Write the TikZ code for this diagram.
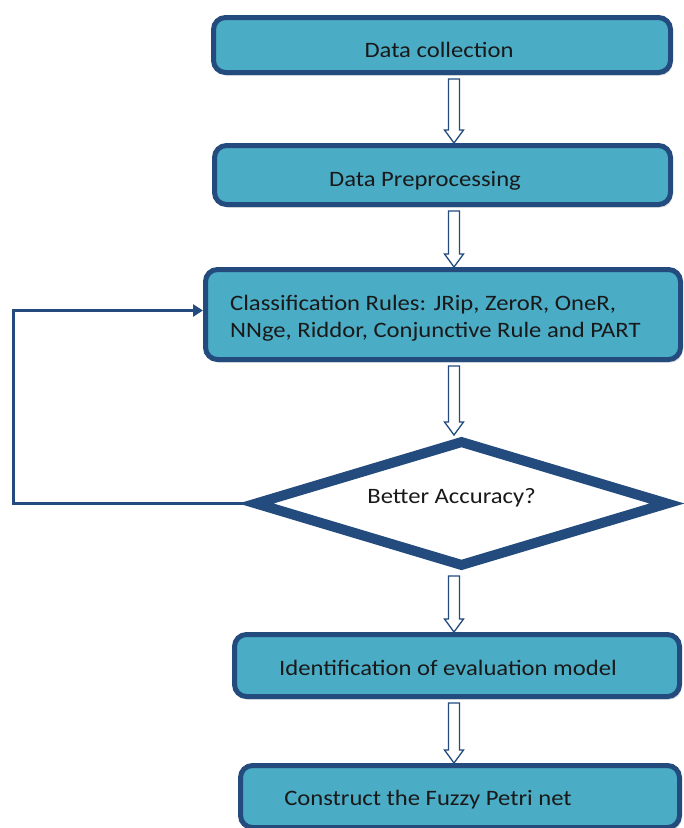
\documentclass[tikz,border=0pt]{standalone}
\usepackage{fontspec}
\setmainfont{Carlito}[FakeStretch=1.12]
\usetikzlibrary{calc,shadows,shapes.geometric,arrows.meta}
\definecolor{boxfill}{HTML}{4BACC6}
\definecolor{boxline}{HTML}{234B7D}
\newcommand{\harrowto}[2]{%
  \draw[harrow] let \p1=(#1), \p2=(#2) in
    (\x1-5.5pt,\y1) -- (\x1+5.5pt,\y1) -- (\x1+5.5pt,\y2+13pt) -- (\x1+9.5pt,\y2+13pt)
    -- (\x1,\y2) -- (\x1-9.5pt,\y2+13pt) -- (\x1-5.5pt,\y2+13pt) -- cycle;}
\begin{document}
\begin{tikzpicture}[x=1pt,y=-1pt,
  box/.style={rectangle, rounded corners=12pt, draw=boxline, line width=5pt, fill=boxfill,
    inner sep=0pt, drop shadow={shadow xshift=2pt,shadow yshift=-3pt,opacity=0.3}},
  dia/.style={shape=diamond, draw=boxline, line width=10pt, fill=white, inner sep=0pt,
    minimum width=415pt, minimum height=127pt},
  txt/.style={font=\fontsize{22}{27}\selectfont, text=black!90, inner sep=0pt, anchor=base},
  harrow/.style={draw=boxline, line width=1.3pt, fill=white, line join=miter},
  loopline/.style={draw=boxline, line width=3pt, line join=miter,
    -{Triangle[length=10pt,width=12pt]}},
]
\useasboundingbox (0,0) rectangle (684,828);
\fill[white] (0,0) rectangle (684,828);
% boxes
\node[box, minimum width=457pt, minimum height=55pt] (b1) at (442,45) {};
\node[box, minimum width=456pt, minimum height=59pt] (b2) at (442.5,175) {};
\node[box, minimum width=475pt, minimum height=90pt] (b3) at (443,314.5) {};
\node[dia] (dec) at (461.5,503.5) {};
\node[box, minimum width=445pt, minimum height=62pt] (b4) at (457,665.5) {};
\node[box, minimum width=439pt, minimum height=62pt] (b5) at (460,796.5) {};
% connectors
\coordinate (ax) at (454,0);
\coordinate (lx) at (13,0);
\harrowto{$(b1.south -| ax)+(0,4)$}{b2.north -| ax}
\harrowto{$(b2.south -| ax)+(0,4)$}{b3.north -| ax}
\harrowto{$(b3.south -| ax)+(0,4)$}{dec.north -| ax}
\harrowto{$(dec.south -| ax)+(0,4)$}{b4.north -| ax}
\harrowto{$(b4.south -| ax)+(0,4)$}{b5.north -| ax}
\draw[loopline] (dec.west) -- (dec.west -| lx) |- ($(b3.west)+(0,-4)$);
% texts
\node[txt] (t1) at (439,57) {Data collection};
\node[txt] (t2) at (425,186) {Data Preprocessing};
\node[txt, anchor=base west] (t3a) at (230,310) {Classification Rules: JRip, ZeroR, OneR,};
\node[txt, anchor=base west] (t3b) at (230,337) {NNge, Riddor, Conjunctive Rule and PART};
\node[txt] (t4) at (451.5,503) {Better Accuracy?};
\node[txt] (t5) at (448,675) {Identification of evaluation model};
\node[txt] (t6) at (428,805) {Construct the Fuzzy Petri net};
\end{tikzpicture}
\end{document}
